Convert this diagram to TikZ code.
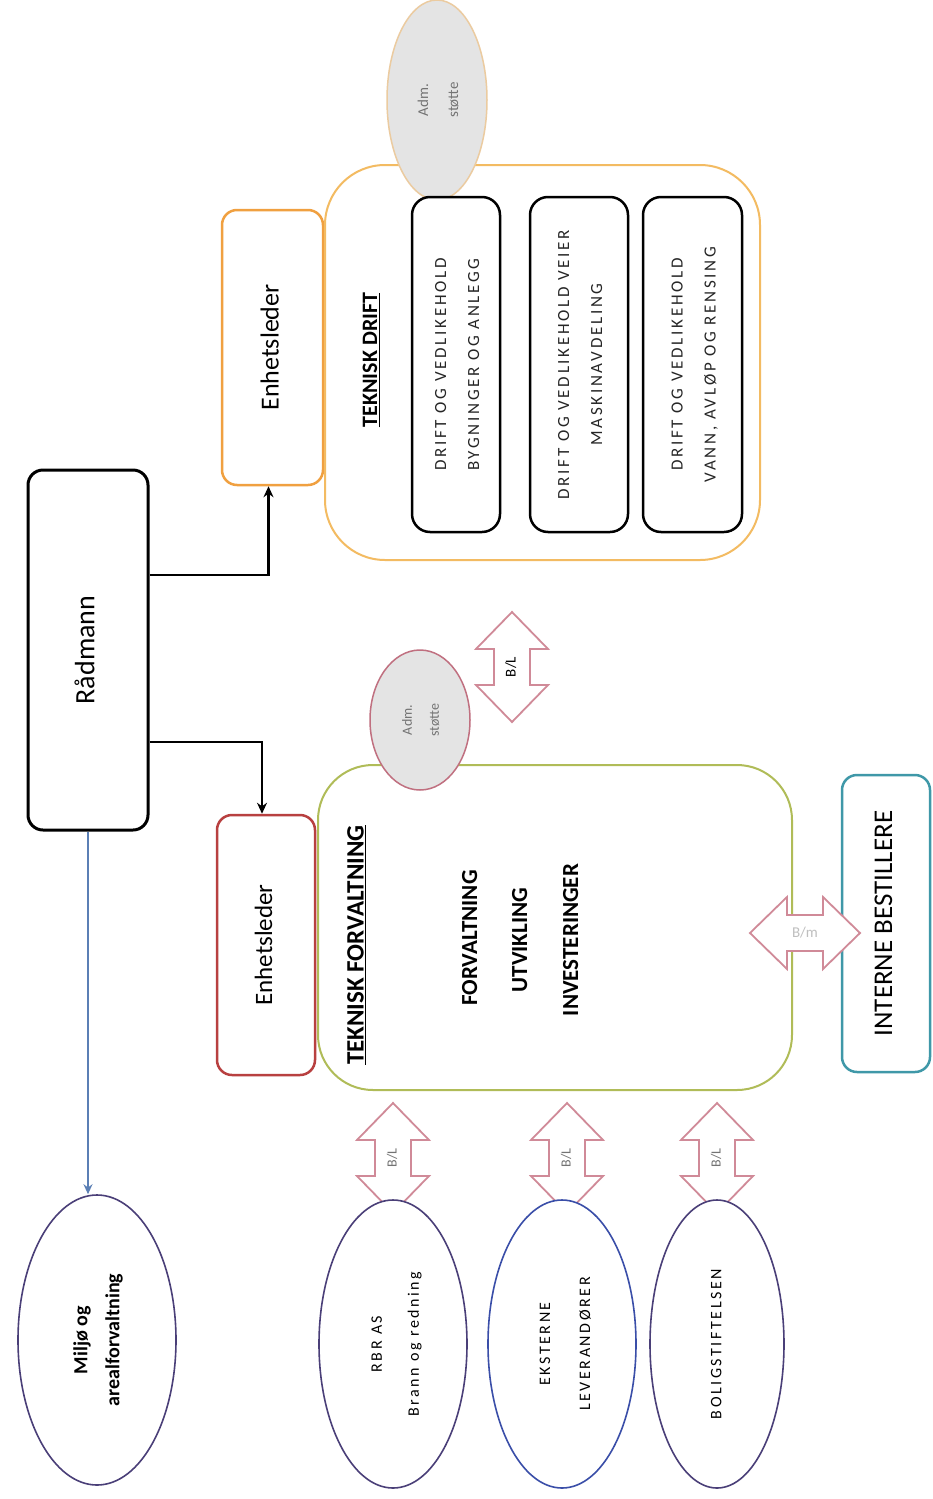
\documentclass[tikz,border=0pt]{standalone}
\usepackage{fontspec}
\setmainfont{Carlito}
\newfontfamily\spaced[LetterSpace=16]{Carlito}
\usetikzlibrary{arrows.meta,shapes.geometric}
\definecolor{orangeD}{HTML}{F0A040}
\definecolor{orangeL}{HTML}{F3BB62}
\definecolor{redB}{HTML}{B84040}
\definecolor{greenB}{HTML}{B0BC58}
\definecolor{pinkB}{HTML}{D08A98}
\definecolor{grayF}{HTML}{E4E4E4}
\definecolor{purpleE}{HTML}{4A3F78}
\definecolor{blueE}{HTML}{3A4EA8}
\definecolor{tealB}{HTML}{3F98A8}
\definecolor{blueA}{HTML}{5B7FB5}
\definecolor{admEdgeA}{HTML}{C07080}
\definecolor{admEdgeB}{HTML}{EBCBA0}
\newcommand\fs[2]{\fontsize{#1}{#2}\selectfont}
\newcommand\rt[2]{\rotatebox{90}{#1\begin{tabular}{@{}c@{}}#2\end{tabular}}}
\tikzset{
  box/.style={draw, rounded corners=15pt, inner sep=0pt, line width=2.5pt, fill=white},
  bigbox/.style={draw, rounded corners=60pt, inner sep=0pt, line width=2pt, fill=white},
  dbox/.style={draw=black, rounded corners=18pt, inner sep=0pt, line width=2.5pt, fill=white},
  ell/.style={draw, ellipse, inner sep=0pt, line width=1.6pt, fill=white},
  adm/.style={draw, ellipse, inner sep=0pt, line width=1.5pt, fill=grayF},
  txt/.style={inner sep=0pt},
  arrowbox/.style={draw=pinkB, fill=white, line width=1.8pt, line join=miter},
  vdarr/.pic={\path[arrowbox,pic actions] (0,-55) -- (36,-18) -- (18,-18) -- (18,18) -- (36,18) -- (0,55) -- (-36,18) -- (-18,18) -- (-18,-18) -- (-36,-18) -- cycle;},
  conn/.style={line width=2.5pt, -{Stealth[length=11pt,width=10pt]}},
}
\begin{document}
\begin{tikzpicture}[x=1pt,y=-1pt]
\useasboundingbox[fill=white] (0,0) rectangle (932,1499);

% Radmann
\node[box, draw=black, line width=3pt, minimum width=120pt, minimum height=360pt] (rad) at (88,650) {\rt{\fs{28}{32}}{Rådmann}};

% Enhetsleder boxes
\node[box, draw=redB, minimum width=98pt, minimum height=260pt] (ens1) at (266,945) {\rt{\fs{25}{30}}{Enhetsleder}};
\node[box, draw=orangeD, minimum width=101pt, minimum height=275pt] (ens2) at (272.5,347.5) {\rt{\fs{26}{30}}{Enhetsleder}};

% big boxes
\node[bigbox, draw=orangeL, minimum width=435pt, minimum height=395pt] (drift) at (542.5,362.5) {};
\node[bigbox, draw=greenB, rounded corners=55pt, minimum width=474pt, minimum height=325pt] (forv) at (555,927.5) {};

% Adm stotte ellipses
\node[adm, draw=admEdgeB, minimum width=100pt, minimum height=200pt] (adm1) at (437,100) {\rt{\fs{15}{30}\color{black!55}}{Adm.\\støtte}};
\node[adm, draw=admEdgeA, minimum width=100pt, minimum height=140pt] (adm2) at (420,720) {\rt{\fs{14}{27}\color{black!55}}{Adm.\\støtte}};

% Teknisk drift content
\node[txt] (tdrift) at (372,360) {\rt{\fs{22}{26}\bfseries}{\underline{TEKNISK DRIFT}}};
\node[dbox, minimum width=88pt, minimum height=335pt] (d1) at (456,364.5) {\rt{\spaced\fs{17}{33}\color{black!85}}{DRIFT OG VEDLIKEHOLD\\BYGNINGER OG ANLEGG}};
\node[dbox, minimum width=98pt, minimum height=335pt] (d2) at (579,364.5) {\rt{\spaced\fs{17}{33}\color{black!85}}{DRIFT OG VEDLIKEHOLD VEIER\\MASKINAVDELING}};
\node[dbox, minimum width=99pt, minimum height=335pt] (d3) at (692.5,364.5) {\rt{\spaced\fs{17}{33}\color{black!85}}{DRIFT OG VEDLIKEHOLD\\VANN, AVLØP OG RENSING}};

% Teknisk forvaltning content
\node[txt] (tforv) at (358,945) {\rt{\fs{25}{28}\bfseries}{\underline{TEKNISK FORVALTNING}}};
\node[txt] (f1) at (472,938) {\rt{\fs{23}{26}\bfseries}{FORVALTNING}};
\node[txt] (f2) at (522,940) {\rt{\fs{23}{26}\bfseries}{UTVIKLING}};
\node[txt] (f3) at (573,940) {\rt{\fs{23}{26}\bfseries}{INVESTERINGER}};

% Interne bestillere
\node[box, draw=tealB, minimum width=88pt, minimum height=297pt] (int) at (886,923.5) {\rt{\fs{27}{30}}{INTERNE BESTILLERE}};

% faint horizontal arrow
\pic[draw=black!8, rotate=90] at (805,933) {vdarr};
\node[txt] (bm) at (805,933) {\fs{15}{18}\color{black!25}B/m};

% B/L arrow near adm
\pic at (512,667) {vdarr};
\node[txt] (bl0) at (512,667) {\rt{\fs{15}{18}}{B/L}};

% bottom arrows
\pic at (393,1158) {vdarr};
\node[txt] (bl1) at (393,1158) {\rt{\fs{14}{18}\color{black!55}}{B/L}};
\pic at (567,1158) {vdarr};
\node[txt] (bl2) at (567,1158) {\rt{\fs{14}{18}\color{black!55}}{B/L}};
\pic at (717,1158) {vdarr};
\node[txt] (bl3) at (717,1158) {\rt{\fs{14}{18}\color{black!55}}{B/L}};

% bottom ellipses
\node[ell, draw=purpleE, minimum width=148pt, minimum height=288pt] (e1) at (393,1344) {\rt{\spaced\fs{16}{37}}{RBR AS\\Brann og redning}};
\node[ell, draw=blueE, minimum width=148pt, minimum height=288pt] (e2) at (562,1344) {\rt{\spaced\fs{16}{40}}{EKSTERNE\\LEVERANDØRER}};
\node[ell, draw=purpleE, minimum width=134pt, minimum height=288pt] (e3) at (717,1344) {\rt{\spaced\fs{16}{22}}{BOLIGSTIFTELSEN}};

% Miljo
\node[ell, draw=purpleE, minimum width=158pt, minimum height=290pt] (milj) at (97,1340) {\rt{\fs{20}{32}\bfseries}{Miljø og\\arealforvaltning}};

% connectors
\draw[conn] ([yshift=75pt]rad.east) -| ([xshift=-4pt]ens2.south);
\draw[conn] ([yshift=-92pt]rad.east) -| ([xshift=-4pt]ens1.north);
\draw[line width=1.6pt, draw=blueA, -{Stealth[length=10pt,width=9pt]}] (rad.south) -- (rad.south |- milj.north);
\end{tikzpicture}
\end{document}
